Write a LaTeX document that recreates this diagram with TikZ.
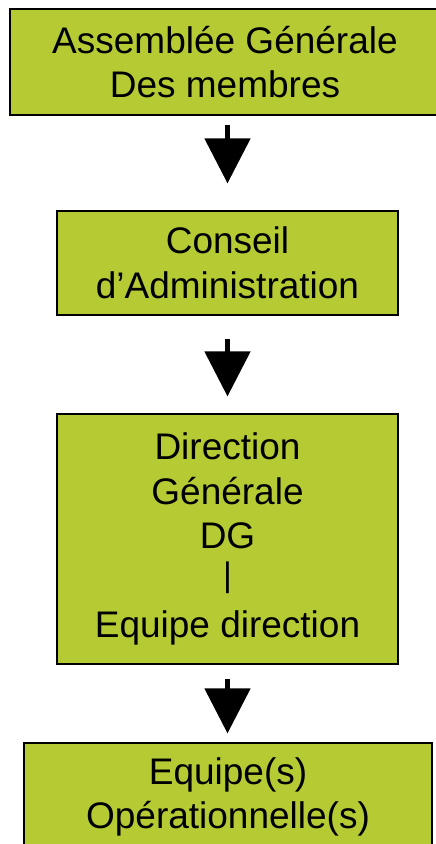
\documentclass[tikz,border=0pt]{standalone}
\usepackage{fontspec}
\setmainfont{Liberation Sans}
\usetikzlibrary{arrows.meta}
\definecolor{boxgreen}{RGB}{182,202,52}

\begin{document}
\begin{tikzpicture}[x=1pt,y=1pt,
	box/.style={draw=black,line width=1.2pt,fill=boxgreen,align=center,inner sep=0pt,
		font=\fontsize{37}{44.5}\selectfont},
	downarrow/.style={line width=5pt,-{Triangle[length=45pt,width=45pt]}}]
	%%%%% START %%%%%
	\def\xmid{227.5}
	\def\wbox{341}
	\useasboundingbox (0,0) rectangle (436,844);

	\node[box,minimum width=430pt,minimum height=106pt] (assemblee) at (225,782) {Assemblée Générale\\Des membres};
	\node[box,minimum width=\wbox pt,minimum height=104pt] (conseil) at (\xmid,581) {Conseil\\d’Administration};
	\node[box,minimum width=\wbox pt,minimum height=250pt] (direction) at (\xmid,305) {Direction\\Générale\\DG\\\raisebox{0.18em}{\fontsize{34}{44.5}\selectfont|}\\Equipe direction};
	\node[box,minimum width=408pt,minimum height=108pt] (equipes) at (228,47) {Equipe(s)\\Opérationnelle(s)};

	\draw[downarrow,shorten <=9pt,shorten >=27pt] (assemblee.south -| conseil.north) -- (conseil.north);
	\draw[downarrow,shorten <=23pt,shorten >=17pt] (conseil.south) -- (direction.north);
	\draw[downarrow,shorten <=14pt,shorten >=9pt] (direction.south) -- (direction.south |- equipes.north);
	%%%%% END %%%%%
\end{tikzpicture}
\end{document}
